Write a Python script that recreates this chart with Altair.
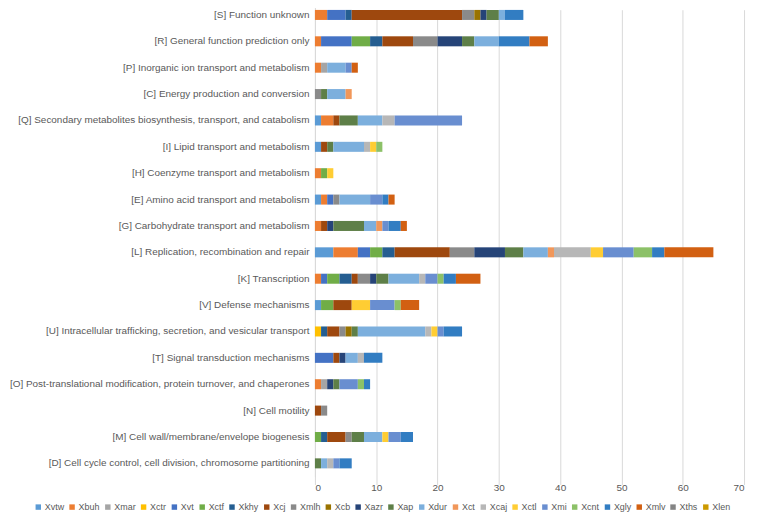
import altair as alt
import pandas as pd

categories = [
    "[S] Function unknown",
    "[R] General function prediction only",
    "[P] Inorganic ion transport and metabolism",
    "[C] Energy production and conversion",
    "[Q] Secondary metabolites biosynthesis, transport, and catabolism",
    "[I] Lipid transport and metabolism",
    "[H] Coenzyme transport and metabolism",
    "[E] Amino acid transport and metabolism",
    "[G] Carbohydrate transport and metabolism",
    "[L] Replication, recombination and repair",
    "[K] Transcription",
    "[V] Defense mechanisms",
    "[U] Intracellular trafficking, secretion, and vesicular transport",
    "[T] Signal transduction mechanisms",
    "[O] Post-translational modification, protein turnover, and chaperones",
    "[N] Cell motility",
    "[M] Cell wall/membrane/envelope biogenesis",
    "[D] Cell cycle control, cell division, chromosome partitioning",
]

series = ["Xvtw", "Xbuh", "Xmar", "Xctr", "Xvt", "Xctf", "Xkhy", "Xcj", "Xmlh", "Xcb", "Xazr",
          "Xap", "Xdur", "Xct", "Xcaj", "Xctl", "Xmi", "Xcnt", "Xgly", "Xmlv", "Xths", "Xlen"]

colors = ["#5B9BD5", "#ED7D31", "#A5A5A5", "#FFC000", "#4472C4", "#70AD47", "#255E91", "#9E480E",
          "#8A8A8A", "#997300", "#264478", "#5E7F48", "#7CAFDD", "#F1975A", "#B7B7B7", "#FFCD33",
          "#698ED0", "#8CC168", "#327DC2", "#D26012", "#848484", "#CC9A00"]

# values per series, in category order (S, R, P, C, Q, I, H, E, G, L, K, V, U, T, O, N, M, D)
Xvtw = [0, 0, 0, 0, 1, 1, 0, 1, 0, 3, 0, 1, 0, 0, 0, 0, 0, 0]
Xbuh = [2, 1, 1, 0, 2, 0, 1, 1, 1, 4, 1, 0, 0, 0, 1, 0, 0, 0]
Xmar = [0, 0, 1, 0, 0, 0, 0, 0, 0, 0, 0, 0, 0, 0, 1, 0, 0, 0]
Xctr = [0, 0, 0, 0, 0, 0, 0, 0, 0, 0, 0, 0, 1, 0, 0, 0, 0, 0]
Xvt = [3, 5, 0, 0, 0, 0, 0, 1, 0, 2, 1, 0, 0, 3, 0, 0, 0, 0]
Xctf = [0, 3, 0, 0, 0, 0, 1, 0, 0, 2, 2, 2, 0, 0, 0, 0, 1, 0]
Xkhy = [1, 2, 0, 0, 0, 0, 0, 0, 0, 2, 2, 0, 1, 0, 0, 0, 1, 0]
Xcj = [18, 5, 0, 0, 1, 1, 0, 0, 1, 9, 1, 3, 2, 1, 0, 1, 3, 0]
Xmlh = [2, 4, 0, 1, 0, 0, 0, 1, 0, 4, 2, 0, 1, 0, 0, 1, 1, 0]
Xcb = [1, 0, 0, 0, 0, 0, 0, 0, 0, 0, 0, 0, 1, 0, 0, 0, 0, 0]
Xazr = [1, 4, 0, 0, 0, 0, 0, 0, 1, 5, 1, 0, 0, 1, 1, 0, 0, 0]
Xap = [2, 2, 0, 1, 3, 1, 0, 0, 5, 3, 2, 0, 1, 0, 1, 0, 2, 1]
Xdur = [1, 4, 3, 3, 4, 5, 0, 5, 2, 4, 5, 0, 11, 2, 0, 0, 3, 1]
Xct = [0, 0, 0, 1, 0, 0, 0, 0, 1, 1, 0, 0, 0, 0, 0, 0, 0, 0]
Xcaj = [0, 0, 0, 0, 2, 1, 0, 0, 0, 6, 1, 0, 1, 1, 0, 0, 0, 1]
Xctl = [0, 0, 0, 0, 0, 1, 1, 0, 0, 2, 0, 3, 1, 0, 0, 0, 1, 0]
Xmi = [0, 0, 1, 0, 11, 0, 0, 2, 1, 5, 2, 4, 1, 0, 3, 0, 2, 1]
Xcnt = [0, 0, 0, 0, 0, 1, 0, 0, 0, 3, 1, 1, 0, 0, 1, 0, 0, 0]
Xgly = [3, 5, 0, 0, 0, 0, 0, 1, 2, 2, 2, 0, 3, 3, 1, 0, 2, 2]
Xmlv = [0, 3, 1, 0, 0, 0, 0, 1, 1, 8, 4, 3, 0, 0, 0, 0, 0, 0]
Xths = [0] * 18
Xlen = [0] * 18

values = [Xvtw, Xbuh, Xmar, Xctr, Xvt, Xctf, Xkhy, Xcj, Xmlh, Xcb, Xazr,
          Xap, Xdur, Xct, Xcaj, Xctl, Xmi, Xcnt, Xgly, Xmlv, Xths, Xlen]

rows = []
for si, (s, vals) in enumerate(zip(series, values)):
    for ci, (c, v) in enumerate(zip(categories, vals)):
        rows.append({"category": c, "series": s, "value": v, "order": si})
df = pd.DataFrame(rows)

FONT = "Liberation Sans"
GRAY = "#595959"

chart = alt.Chart(df).mark_bar().encode(
    y=alt.Y("category:N", sort=categories, title=None,
            scale=alt.Scale(range=[-8, 470], paddingInner=0.62, paddingOuter=0.31),
            axis=alt.Axis(labelFont=FONT, labelFontSize=10, labelColor=GRAY, labelPadding=6,
                          ticks=False, domainColor="#D9D9D9", labelLimit=400)),
    x=alt.X("value:Q", stack="zero", title=None,
            scale=alt.Scale(domain=[0, 70], nice=False),
            axis=alt.Axis(values=[0, 10, 20, 30, 40, 50, 60, 70], labelFont=FONT, labelFontSize=10,
                          labelColor=GRAY, grid=True, gridColor="#D9D9D9", domain=False,
                          ticks=False, labelPadding=6)),
    color=alt.Color("series:N", scale=alt.Scale(domain=series, range=colors),
                    legend=alt.Legend(title=None, orient="none", direction="horizontal",
                                      legendX=-283, legendY=496, symbolType="square",
                                      symbolSize=30, labelFont=FONT, labelFontSize=9,
                                      labelColor=GRAY, columnPadding=3, symbolStrokeWidth=0,
                                      labelOffset=2, values=series)),
    order=alt.Order("order:Q", sort="ascending"),
).properties(
    width=432, height=470,
    autosize=alt.AutoSizeParams(type="none"),
    padding={"left": 309, "top": 0, "right": 6, "bottom": 36},
).configure_view(stroke=None)

chart.save("out.html", embed_options={"renderer": "svg", "actions": False})
